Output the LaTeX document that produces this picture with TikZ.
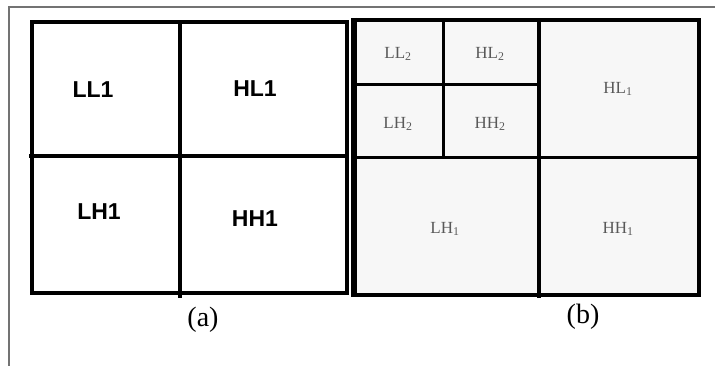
\documentclass[tikz,border=0pt]{standalone}
\usepackage{fontspec}
\setmainfont{Liberation Serif}
\newfontfamily\bandfont{Liberation Sans}
\begin{document}
\begin{tikzpicture}[x=1pt,y=-1pt,
    frameline/.style={draw=black!55,line width=1.2pt},
    heavy/.style={line width=4.5pt},
    medium/.style={line width=3pt},
    bigband/.style={font=\bandfont\bfseries\fontsize{23}{23}\selectfont},
    subband/.style={font=\fontsize{17}{17}\selectfont,text=black!65},
    caption/.style={font=\fontsize{28}{28}\selectfont}]
  \useasboundingbox (0,0) rectangle (715,366);
  % outer frame of the figure
  \draw[frameline] (9,366) -- (9,7) -- (715,7);
  % (a) one level
  \draw[heavy] (32,22) rectangle (347,293);
  \draw[heavy] (180,22) -- (180,298);
  \draw[heavy] (29,156) -- (349,156);
  \node[bigband] (ll1) at (93,90) {LL1};
  \node[bigband] (hl1) at (255,89) {HL1};
  \node[bigband] (lh1) at (99,212) {LH1};
  \node[bigband] (hh1) at (255,219) {HH1};
  \node[caption] (capa) at (203,320) {(a)};
  % (b) two levels
  \fill[black!3] (354,20) rectangle (699,295);
  \draw[line width=4pt] (354,20) rectangle (699,295);
  \draw[line width=6pt] (354,18) -- (354,297);
  \draw[heavy] (539,20) -- (539,298);
  \draw[medium] (354,158) -- (699,158);
  \draw[medium] (443,20) -- (443,158);
  \draw[medium] (354,85) -- (539,85);
  \node[subband] (ll2) at (398,54) {LL\textsubscript{2}};
  \node[subband] (hl2) at (490,54) {HL\textsubscript{2}};
  \node[subband] (lh2) at (398,124) {LH\textsubscript{2}};
  \node[subband] (hh2) at (490,124) {HH\textsubscript{2}};
  \node[subband] (hl1b) at (618,89) {HL\textsubscript{1}};
  \node[subband] (lh1b) at (445,229) {LH\textsubscript{1}};
  \node[subband] (hh1b) at (618,229) {HH\textsubscript{1}};
  \node[caption] (capb) at (583,317) {(b)};
\end{tikzpicture}
\end{document}
